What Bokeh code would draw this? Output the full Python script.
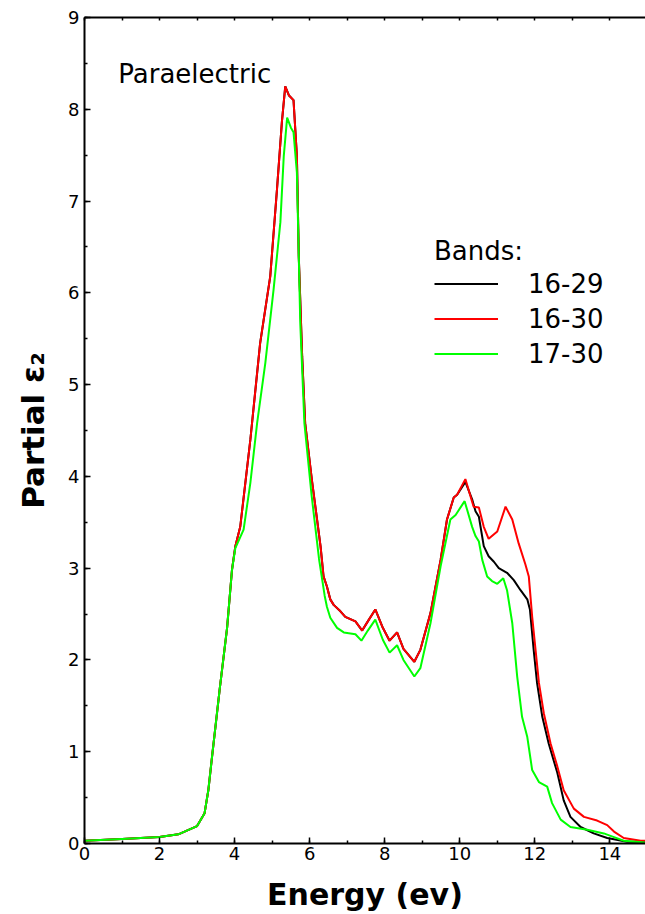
from bokeh.plotting import figure
from bokeh.models import Range1d, SingleIntervalTicker, FixedTicker, LinearAxis, Legend, LegendItem, Label
from bokeh.embed import file_html
from bokeh.resources import INLINE

# ---- data ----
x_1630 = [0, 1, 2, 2.5, 3.0, 3.2, 3.3, 3.4, 3.5, 3.6, 3.8, 3.93, 4.02, 4.15, 4.42, 4.68, 4.95, 5.13,
          5.26, 5.35, 5.45, 5.57, 5.66, 5.71, 5.80, 5.88, 6.06, 6.29, 6.37, 6.46, 6.55, 6.64, 6.82,
          6.95, 7.22, 7.40, 7.55, 7.75, 7.95, 8.13, 8.33, 8.5, 8.79, 8.95, 9.22, 9.49, 9.66, 9.84,
          9.93, 10.15, 10.37, 10.51, 10.64, 10.77, 11.0, 11.22, 11.40, 11.57, 11.75, 11.84, 11.93,
          12.02, 12.11, 12.24, 12.42, 12.6, 12.77, 13.04, 13.31, 13.66, 13.93, 14.11, 14.37, 14.82, 15.0]
y_1630 = [0.03, 0.05, 0.07, 0.10, 0.19, 0.33, 0.58, 0.95, 1.31, 1.67, 2.35, 2.98, 3.24, 3.45, 4.40, 5.45,
          6.18, 7.13, 7.86, 8.25, 8.15, 8.10, 7.49, 6.40, 5.31, 4.58, 3.96, 3.24, 2.91, 2.80, 2.66,
          2.60, 2.53, 2.47, 2.42, 2.32, 2.42, 2.55, 2.35, 2.21, 2.30, 2.12, 1.98, 2.11, 2.51, 3.09,
          3.53, 3.77, 3.80, 3.97, 3.67, 3.66, 3.45, 3.32, 3.40, 3.67, 3.53, 3.27, 3.04, 2.91, 2.47,
          2.11, 1.75, 1.42, 1.09, 0.84, 0.58, 0.38, 0.29, 0.25, 0.20, 0.13, 0.06, 0.03, 0.03]

x_1629 = [0, 1, 2, 2.5, 3.0, 3.2, 3.3, 3.4, 3.5, 3.6, 3.8, 3.93, 4.02, 4.15, 4.42, 4.68, 4.95, 5.13,
          5.26, 5.35, 5.45, 5.57, 5.66, 5.71, 5.80, 5.88, 6.06, 6.29, 6.37, 6.46, 6.55, 6.64, 6.82,
          6.95, 7.22, 7.40, 7.55, 7.75, 7.95, 8.13, 8.33, 8.5, 8.79, 8.95, 9.22, 9.49, 9.66, 9.84,
          9.93, 10.15, 10.33, 10.42, 10.51, 10.64, 10.77, 10.91, 11.04, 11.26, 11.44, 11.62, 11.80,
          11.87, 11.97, 12.06, 12.2, 12.37, 12.6, 12.77, 12.95, 13.22, 13.57, 13.93, 14.46, 15.0]
y_1629 = [0.03, 0.05, 0.07, 0.10, 0.19, 0.33, 0.58, 0.95, 1.31, 1.67, 2.35, 2.98, 3.24, 3.45, 4.40, 5.45,
          6.18, 7.13, 7.86, 8.25, 8.15, 8.10, 7.49, 6.40, 5.31, 4.58, 3.96, 3.24, 2.91, 2.80, 2.66,
          2.60, 2.53, 2.47, 2.42, 2.32, 2.42, 2.55, 2.35, 2.21, 2.30, 2.12, 1.98, 2.11, 2.51, 3.09,
          3.53, 3.77, 3.80, 3.94, 3.75, 3.62, 3.56, 3.24, 3.13, 3.07, 3.00, 2.95, 2.87, 2.76, 2.66,
          2.55, 2.11, 1.75, 1.38, 1.09, 0.77, 0.47, 0.29, 0.18, 0.11, 0.06, 0.02, 0.02]

x_1730 = [0, 1, 2, 2.5, 3.0, 3.2, 3.3, 3.4, 3.5, 3.6, 3.8, 3.93, 4.02, 4.24, 4.42, 4.60, 4.82, 5.04,
          5.22, 5.31, 5.40, 5.50, 5.57, 5.66, 5.75, 5.86, 6.05, 6.25, 6.40, 6.46, 6.55, 6.73, 6.91,
          7.22, 7.38, 7.55, 7.75, 7.95, 8.13, 8.33, 8.5, 8.79, 8.95, 9.22, 9.49, 9.75, 9.89, 10.13,
          10.33, 10.42, 10.51, 10.60, 10.73, 10.86, 11.0, 11.16, 11.26, 11.40, 11.53, 11.66, 11.80,
          11.93, 12.11, 12.33, 12.46, 12.69, 12.95, 13.40, 13.84, 14.11, 14.37, 15.0]
y_1730 = [0.03, 0.05, 0.07, 0.10, 0.19, 0.33, 0.58, 0.95, 1.31, 1.67, 2.35, 2.98, 3.22, 3.42, 3.93, 4.58,
          5.24, 6.04, 6.77, 7.49, 7.91, 7.80, 7.75, 7.31, 5.67, 4.58, 3.80, 3.10, 2.70, 2.58, 2.46,
          2.35, 2.30, 2.28, 2.21, 2.32, 2.44, 2.22, 2.08, 2.16, 2.00, 1.82, 1.91, 2.40, 3.02, 3.53,
          3.58, 3.73, 3.45, 3.35, 3.29, 3.09, 2.91, 2.86, 2.83, 2.89, 2.76, 2.40, 1.82, 1.38, 1.16,
          0.80, 0.67, 0.62, 0.44, 0.26, 0.18, 0.15, 0.11, 0.07, 0.03, 0.01]

series_labels = ["16-29", "16-30", "17-30"]
series_colors = ["#000000", "#ff0000", "#00ff00"]
x_ticks_interval = 2
y_ticks_interval = 1
top_minor_ticks = list(range(0, 16))

FONT = "DejaVu Sans"

p = figure(width=645, height=914, output_backend="svg", toolbar_location=None,
           x_range=Range1d(0, 14.95), y_range=Range1d(0, 9),
           min_border_left=84, min_border_right=0, min_border_top=17, min_border_bottom=70)
p.outline_line_color = None
p.xgrid.visible = False
p.ygrid.visible = False
p.background_fill_color = "white"

def style_axis(ax, ticker):
    ax.ticker = ticker
    ax.axis_line_width = 2
    ax.axis_line_color = "black"
    ax.major_tick_in = 6
    ax.major_tick_out = 0
    ax.minor_tick_in = 3
    ax.minor_tick_out = 0
    ax.major_tick_line_width = 1.5
    ax.minor_tick_line_width = 1.5
    ax.major_label_text_font = FONT
    ax.major_label_text_font_size = "18px"
    ax.major_label_text_color = "black"
    ax.axis_label_text_font = FONT
    ax.axis_label_text_font_size = "30px"
    ax.axis_label_text_font_style = "bold"
    ax.axis_label_text_color = "black"

style_axis(p.xaxis[0], SingleIntervalTicker(interval=x_ticks_interval, num_minor_ticks=2))
style_axis(p.yaxis[0], SingleIntervalTicker(interval=y_ticks_interval, num_minor_ticks=2))
p.xaxis.axis_label = "Energy (ev)"
p.yaxis.axis_label = "Partial ε₂"
p.yaxis.axis_label_text_font_size = "31px"
p.xaxis.major_label_standoff = 3
p.xaxis.axis_label_standoff = 14
p.yaxis.major_label_standoff = 5
p.yaxis.axis_label_standoff = 14

top = LinearAxis()
style_axis(top, FixedTicker(ticks=[], minor_ticks=top_minor_ticks))
top.minor_tick_in = 3
p.add_layout(top, "above")

r1 = p.line(x_1629, y_1629, line_color=series_colors[0], line_width=2)
r2 = p.line(x_1630, y_1630, line_color=series_colors[1], line_width=2)
r3 = p.line(x_1730, y_1730, line_color=series_colors[2], line_width=2)

legend = Legend(items=[LegendItem(label=series_labels[0], renderers=[r1]),
                       LegendItem(label=series_labels[1], renderers=[r2]),
                       LegendItem(label=series_labels[2], renderers=[r3])],
                location=(350, 472), title="Bands:",
                title_text_font=FONT, title_text_font_size="26px", title_text_font_style="normal",
                title_text_color="black", title_standoff=0,
                label_text_font=FONT, label_text_font_size="26px", label_text_color="black",
                glyph_width=64, glyph_height=35, label_height=35, label_standoff=30,
                spacing=0, padding=0, margin=0,
                border_line_color=None, background_fill_alpha=0)
p.add_layout(legend, "center")

p.add_layout(Label(x=0.9, y=8.38, text="Paraelectric", text_font=FONT, text_font_size="26px",
                   text_baseline="alphabetic", text_color="black"))

open("out.html", "w").write(file_html(p, INLINE))
